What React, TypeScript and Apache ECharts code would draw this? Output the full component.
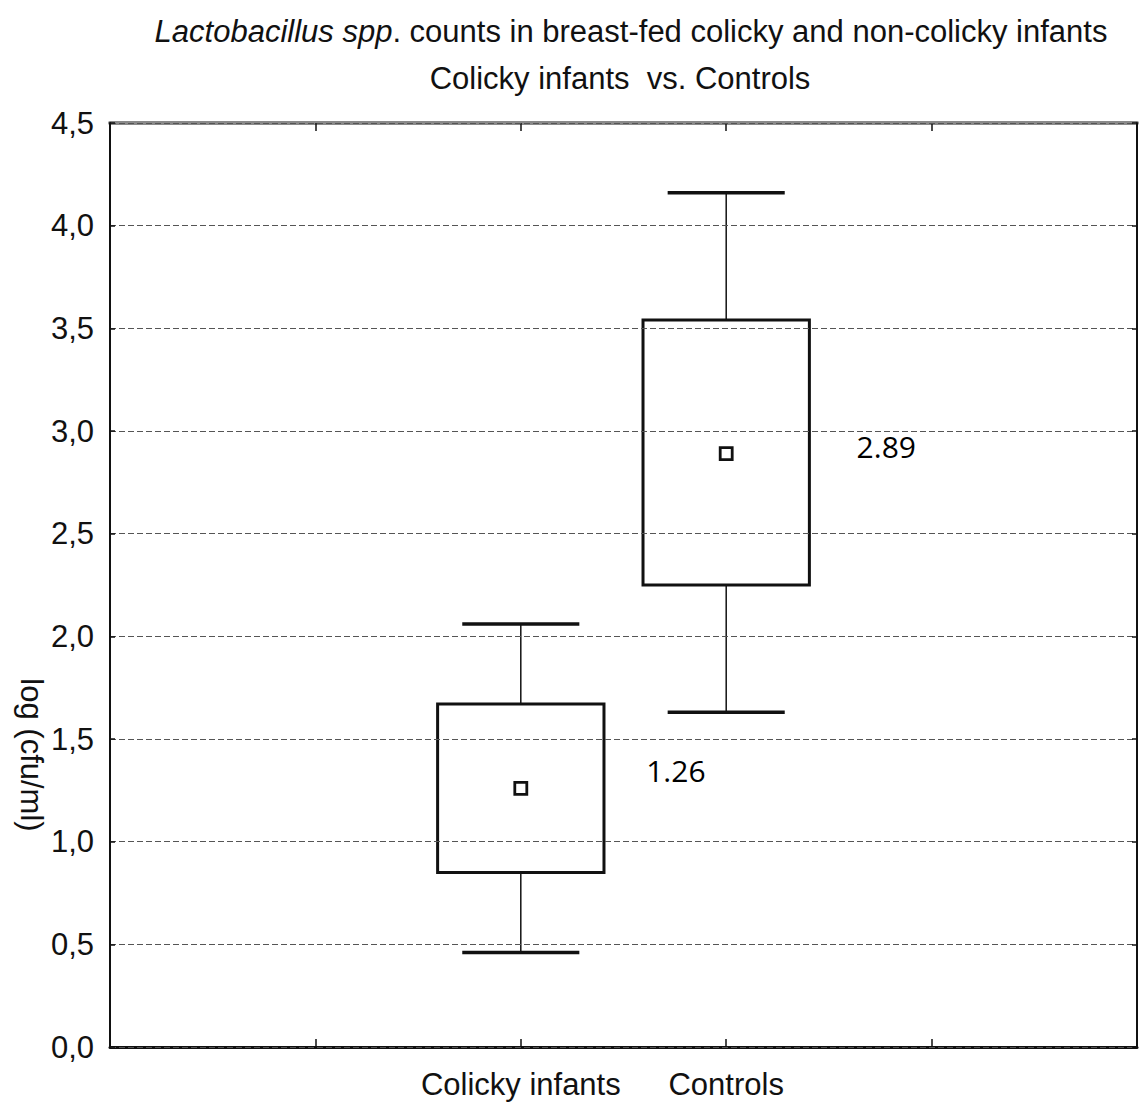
import React, { useEffect, useRef } from 'react';
import * as echarts from 'echarts';

// ---- data ----
const axisCategories = ['', '', 'Colicky infants', 'Controls', '', ''];
const groups = ['Colicky infants', 'Controls'];
const whiskerLow = [0.46, 1.63];
const boxLow = [0.85, 2.25];
const boxHigh = [1.67, 3.54];
const whiskerHigh = [2.06, 4.16];
const means = [1.26, 2.89];

const titleItalic = 'Lactobacillus spp';
const titleRest = '. counts in breast-fed colicky and non-colicky infants';
const subtitleText = 'Colicky infants  vs. Controls';
const yAxisName = 'log (cfu/ml)';

// label offsets (style only)
const meanLabelOffsets = [
  [-2, -18],
  [3, -7],
];

const FONT = 'Liberation Sans, Arial, sans-serif';
const FS = 31;

export default function App() {
  const ref = useRef<HTMLDivElement>(null);

  useEffect(() => {
    if (!ref.current) return;
    const chart = echarts.init(ref.current, undefined, { renderer: 'svg' });

    const boxData = groups.map((g, i) => [g, whiskerLow[i], boxLow[i], boxHigh[i], whiskerHigh[i]]);
    const meanData = groups.map((g, i) => ({
      value: [g, means[i]],
      label: { offset: meanLabelOffsets[i] },
    }));

    const option: any = {
      animation: false,
      backgroundColor: '#fff',
      grid: { left: 110, right: 2, top: 123, bottom: 56, containLabel: false },
      graphic: [
        {
          type: 'text',
          x: 631,
          y: 31,
          style: {
            text: `{i|${titleItalic}}{n|${titleRest}}`,
            rich: {
              i: { fontStyle: 'italic', fontSize: FS, fontFamily: FONT, fill: '#111', color: '#111' },
              n: { fontSize: FS, fontFamily: FONT, fill: '#111', color: '#111' },
            },
            align: 'center',
            verticalAlign: 'middle',
            textAlign: 'center',
            textVerticalAlign: 'middle',
            fill: '#111',
          },
        },
        {
          type: 'text',
          x: 620,
          y: 78,
          style: {
            text: subtitleText,
            font: `${FS}px ${FONT}`,
            fill: '#111',
            align: 'center',
            verticalAlign: 'middle',
            textAlign: 'center',
            textVerticalAlign: 'middle',
          },
        },
        {
          type: 'text',
          x: 31,
          y: 755,
          rotation: -Math.PI / 2,
          style: {
            text: yAxisName,
            font: `${FS}px ${FONT}`,
            fill: '#111',
            align: 'center',
            verticalAlign: 'middle',
            textAlign: 'center',
            textVerticalAlign: 'middle',
          },
        },
      ],
      xAxis: [
        {
          type: 'category',
          data: axisCategories,
          boundaryGap: false,
          position: 'bottom',
          axisLine: { onZero: false, lineStyle: { color: '#111', width: 3 } },
          axisTick: { show: true, inside: true, length: 8, interval: 0, lineStyle: { color: '#111', width: 1.5 } },
          axisLabel: { interval: 0, fontSize: FS, color: '#111', fontFamily: FONT, margin: 22 },
          splitLine: { show: false },
          z: 5,
        },
        {
          type: 'category',
          data: axisCategories,
          boundaryGap: false,
          position: 'top',
          axisLine: { onZero: false, lineStyle: { color: '#8a8a8a', width: 4 } },
          axisTick: { show: true, inside: true, length: 8, interval: 0, lineStyle: { color: '#111', width: 1.5 } },
          axisLabel: { show: false },
          splitLine: { show: false },
          z: 5,
        },
      ],
      yAxis: [
        {
          type: 'value',
          min: 0,
          max: 4.5,
          interval: 0.5,
          position: 'left',
          axisLine: { show: true, onZero: false, lineStyle: { color: '#111', width: 2 } },
          axisTick: { show: true, inside: true, length: 5, lineStyle: { color: '#111', width: 1.5 } },
          axisLabel: {
            fontSize: FS,
            color: '#111',
            fontFamily: FONT,
            margin: 16,
            formatter: (v: number) => v.toFixed(1).replace('.', ','),
          },
          splitLine: { show: true, lineStyle: { color: '#555', width: 1.2, type: [6, 3] } },
          z: 6,
        },
        {
          type: 'value',
          min: 0,
          max: 4.5,
          interval: 0.5,
          position: 'right',
          axisLine: { show: true, onZero: false, lineStyle: { color: '#111', width: 2 } },
          axisTick: { show: true, inside: true, length: 5, lineStyle: { color: '#111', width: 1.5 } },
          axisLabel: { show: false },
          splitLine: { show: false },
          z: 6,
        },
      ],
      series: [
        {
          type: 'custom',
          xAxisIndex: 0,
          yAxisIndex: 0,
          data: boxData,
          encode: { x: 0, y: [1, 2, 3, 4] },
          renderItem: (params: any, api: any) => {
            const xi = api.value(0);
            const lo = api.coord([xi, api.value(1)]);
            const q1 = api.coord([xi, api.value(2)]);
            const q3 = api.coord([xi, api.value(3)]);
            const hi = api.coord([xi, api.value(4)]);
            const band = api.size([1, 0])[0];
            const bw = band * 0.81;
            const cw = band * 0.57;
            const cx = lo[0];
            const thin = { stroke: '#111', lineWidth: 1.5 };
            const thick = { stroke: '#111', lineWidth: 3.5 };
            return {
              type: 'group',
              children: [
                { type: 'line', shape: { x1: cx, y1: hi[1], x2: cx, y2: q3[1] }, style: thin },
                { type: 'line', shape: { x1: cx, y1: q1[1], x2: cx, y2: lo[1] }, style: thin },
                { type: 'line', shape: { x1: cx - cw / 2, y1: hi[1], x2: cx + cw / 2, y2: hi[1] }, style: thick },
                { type: 'line', shape: { x1: cx - cw / 2, y1: lo[1], x2: cx + cw / 2, y2: lo[1] }, style: thick },
                {
                  type: 'rect',
                  shape: { x: cx - bw / 2, y: q3[1], width: bw, height: q1[1] - q3[1] },
                  style: { fill: '#fff', stroke: '#111', lineWidth: 3 },
                },
              ],
            };
          },
          z: 3,
        },
        {
          type: 'scatter',
          xAxisIndex: 0,
          yAxisIndex: 0,
          data: meanData,
          symbol: 'rect',
          symbolSize: 12,
          itemStyle: { color: '#fff', borderColor: '#111', borderWidth: 2.8, opacity: 1 },
          label: {
            show: true,
            position: 'right',
            distance: 120,
            fontSize: 30,
            fontFamily: 'Open Sans, Noto Sans, sans-serif',
            color: '#000',
            formatter: (p: any) => Number(p.value[1]).toFixed(2),
          },
          emphasis: { disabled: true },
          z: 4,
        },
      ],
    };

    chart.setOption(option);
    return () => chart.dispose();
  }, []);

  return (
    <div
      ref={ref}
      style={{ position: 'fixed', left: 0, top: 0, width: 1140, height: 1103, background: '#fff' }}
    />
  );
}
